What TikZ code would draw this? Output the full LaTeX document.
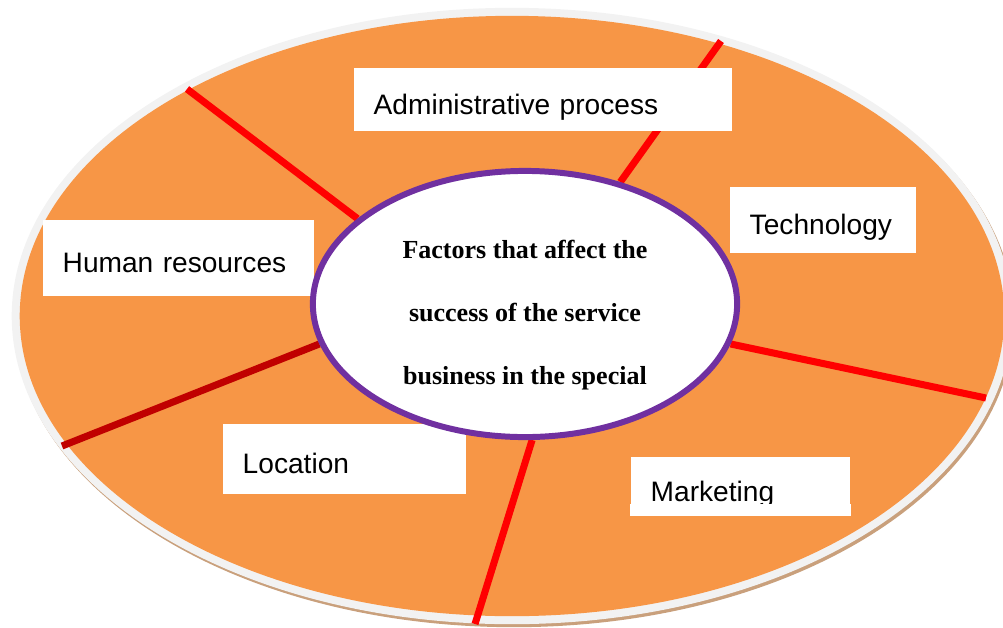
\documentclass[tikz,border=0pt]{standalone}
\usepackage{fontspec}
\setmainfont{Liberation Serif}
\newfontfamily\labelfont{Liberation Sans}
\usetikzlibrary{shapes.geometric}

\definecolor{discorange}{HTML}{F79646}
\definecolor{discrim}{HTML}{F2F2F2}
\definecolor{discshadow}{RGB}{201,160,124}
\definecolor{hubpurple}{HTML}{7030A0}
\definecolor{spokedark}{HTML}{C00000}

\pgfdeclarelayer{bg}
\pgfdeclarelayer{spokes}
\pgfsetlayers{bg,spokes,main}

\tikzset{
    spoke/.style={line width=2pt, red},
    factor/.style n args={2}{rectangle, fill=white, anchor=north west,
        inner xsep=0.2cm, text width=#1, minimum height=#2,
        text height=0.3cm, text depth=0cm, align=left,
        font=\labelfont\fontsize{8}{9.6}\selectfont},
}

\begin{document}
\begin{tikzpicture}[x=0.01cm, y=-0.01cm]
        \useasboundingbox (0, 0) rectangle (1003, 627);

        % The disc: shadow, light rim and orange face
        \begin{pgfonlayer}{bg}
            \fill[discshadow] (514, 319) ellipse [x radius=5cm, y radius=3.08cm];
            \fill[discrim] (512, 316) ellipse [x radius=5cm, y radius=3.08cm];
            \fill[discorange] (512, 316) ellipse [x radius=4.92cm, y radius=3cm];
        \end{pgfonlayer}

        % The factor boxes
        \node[factor={3.38cm}{0.63cm}] (admin) at (353, 67) {Administrative process};
        \node[factor={1.46cm}{0.66cm}] (tech) at (729, 186) {Technology};
        \node[factor={2.31cm}{0.76cm}] (hr) at (42, 219) {Human resources};
        \node[factor={2.03cm}{0.70cm}] (loc) at (222, 423) {Location};
        \node[factor={1.79cm}{0.59cm}] (mkt) at (630, 456) {Marketing};
        \fill[white] ([yshift=0.12cm]mkt.south west) rectangle (mkt.south east);

        % The hub
        \node[ellipse, draw=hubpurple, line width=1.7pt, fill=white,
            minimum width=4.24cm, minimum height=2.66cm, inner sep=0pt,
            align=center, font=\bfseries\fontsize{7.4}{18}\selectfont] (factors) at (525, 304)
            {\rule{0pt}{11.5pt}Factors that affect the\\ success of the service\\ business in the special};

        % Rim ends of the spokes
        \coordinate (s1) at (187, 89);
        \coordinate (s2) at (721, 41);
        \coordinate (s3) at (986, 398);
        \coordinate (s4) at (475, 624);
        \coordinate (s5) at (62, 446);

        % The spokes, under the boxes and the hub
        \begin{pgfonlayer}{spokes}
            \draw[spoke] (factors.153) -- (s1);
            \draw[spoke] (factors.52) -- (s2);
            \draw[spoke] (factors.-11) -- (s3);
            \draw[spoke] (factors.-87) -- (s4);
            \draw[spoke, spokedark] (factors.191) -- (s5);
        \end{pgfonlayer}
    \end{tikzpicture}
\end{document}
